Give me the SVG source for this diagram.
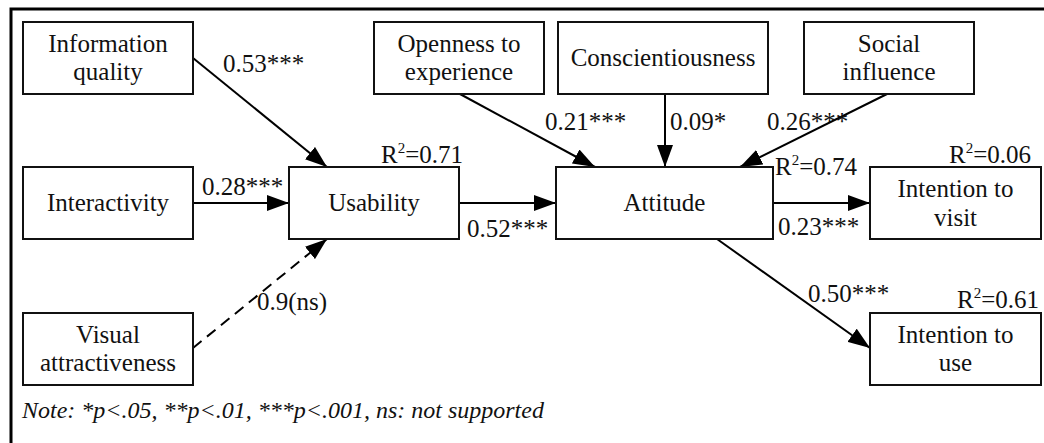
<svg xmlns="http://www.w3.org/2000/svg" width="1044" height="443" viewBox="0 0 1044 443">
<defs>
<marker id="ah" markerUnits="userSpaceOnUse" markerWidth="22" markerHeight="16" refX="22" refY="8" orient="auto">
<path d="M0,0 L22,8 L0,16 z" fill="#000"/>
</marker>
<style>
.box{fill:#fff;stroke:#111;stroke-width:2}
.t{font-family:'Liberation Serif','Times New Roman',serif;font-size:25px;fill:#111}
.c{text-anchor:middle}
.e{stroke:#000;stroke-width:2;fill:none;marker-end:url(#ah)}
.d{stroke-dasharray:11,7}
.sup{font-size:15px}
.note{font-family:'Liberation Serif','Times New Roman',serif;font-size:24px;font-style:italic;fill:#111}
</style>
</defs>
<rect width="1044" height="443" fill="#fff"/>
<rect x="11" y="9" width="1045" height="450" fill="none" stroke="#000" stroke-width="3"/>
<g id="connectors">
<line class="e" x1="193" y1="58" x2="327" y2="167"/>
<line class="e" x1="193" y1="203" x2="289" y2="203"/>
<line class="e d" x1="193" y1="348" x2="327" y2="239"/>
<line class="e" x1="459" y1="203" x2="556" y2="203"/>
<line class="e" x1="460" y1="94" x2="595" y2="167"/>
<line class="e" x1="665" y1="94" x2="665" y2="167"/>
<line class="e" x1="887" y1="94" x2="740" y2="167"/>
<line class="e" x1="773" y1="203" x2="870" y2="203"/>
<line class="e" x1="717" y1="239" x2="870" y2="348"/>
<text class="t" x="223" y="72">0.53***</text>
<text class="t" x="202" y="195">0.28***</text>
<text class="t" x="257" y="310">0.9(ns)</text>
<text class="t" x="467" y="237">0.52***</text>
<text class="t" x="545" y="130">0.21***</text>
<text class="t" x="670" y="130">0.09*</text>
<text class="t" x="767" y="130">0.26***</text>
<text class="t" x="778" y="235">0.23***</text>
<text class="t" x="808" y="302">0.50***</text>
<text class="t" x="381" y="163">R<tspan class="sup" dy="-10">2</tspan><tspan dy="10">=0.71</tspan></text>
<text class="t" x="775" y="175">R<tspan class="sup" dy="-10">2</tspan><tspan dy="10">=0.74</tspan></text>
<text class="t" x="949" y="163">R<tspan class="sup" dy="-10">2</tspan><tspan dy="10">=0.06</tspan></text>
<text class="t" x="957" y="308">R<tspan class="sup" dy="-10">2</tspan><tspan dy="10">=0.61</tspan></text>
</g>
<g id="info-quality">
<rect class="box" x="23" y="22" width="170" height="72"/>
<text class="t c" x="108" y="52">Information</text>
<text class="t c" x="108" y="80">quality</text>
</g>
<g id="interactivity">
<rect class="box" x="23" y="167" width="170" height="72"/>
<text class="t c" x="108" y="211">Interactivity</text>
</g>
<g id="visual-attractiveness">
<rect class="box" x="23" y="313" width="170" height="72"/>
<text class="t c" x="108" y="343">Visual</text>
<text class="t c" x="108" y="371">attractiveness</text>
</g>
<g id="usability">
<rect class="box" x="289" y="167" width="170" height="72"/>
<text class="t c" x="374" y="211">Usability</text>
</g>
<g id="attitude">
<rect class="box" x="556" y="167" width="217" height="72"/>
<text class="t c" x="664.5" y="211">Attitude</text>
</g>
<g id="openness">
<rect class="box" x="374" y="22" width="170" height="72"/>
<text class="t c" x="459" y="52">Openness to</text>
<text class="t c" x="459" y="80">experience</text>
</g>
<g id="conscientiousness">
<rect class="box" x="558" y="22" width="210" height="72"/>
<text class="t c" x="663" y="66">Conscientiousness</text>
</g>
<g id="social-influence">
<rect class="box" x="804" y="22" width="170" height="72"/>
<text class="t c" x="889" y="52">Social</text>
<text class="t c" x="889" y="80">influence</text>
</g>
<g id="intention-visit">
<rect class="box" x="870" y="167" width="171" height="72"/>
<text class="t c" x="955.5" y="197">Intention to</text>
<text class="t c" x="955.5" y="226">visit</text>
</g>
<g id="intention-use">
<rect class="box" x="870" y="313" width="171" height="72"/>
<text class="t c" x="955.5" y="343">Intention to</text>
<text class="t c" x="955.5" y="371">use</text>
</g>
<text class="note" x="22" y="418">Note: *p&lt;.05, **p&lt;.01, ***p&lt;.001, ns: not supported</text>
</svg>
